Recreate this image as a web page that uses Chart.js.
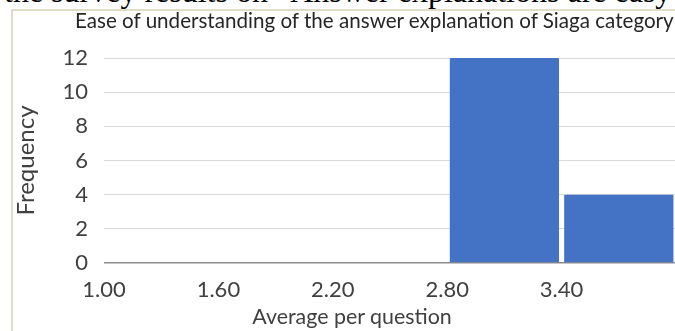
<!DOCTYPE html>
<html>
<head>
<meta charset="utf-8">
<script src="https://cdn.jsdelivr.net/npm/chart.js@4/dist/chart.umd.min.js"></script>
<style>
    html, body {
        margin: 0;
        padding: 0;
        width: 675px;
        height: 331px;
        overflow: hidden;
        background: #ffffff;
        position: relative;
    }
    #pageText {
        position: absolute;
        left: 4px;
        top: -25px;
        font-family: "Liberation Serif", serif;
        font-size: 32px;
        line-height: 32px;
        white-space: nowrap;
        color: #000000;
    }
    #frame {
        position: absolute;
        left: 11px;
        top: 9px;
        width: 720px;
        height: 340px;
        border-left: 2px solid #e0dcc8;
        border-top: 2px solid #e0dcc8;
    }
    #chartBox {
        position: absolute;
        left: 0;
        top: 0;
    }
    .label {
        position: absolute;
        font-family: Lato, sans-serif;
        white-space: nowrap;
        color: #262626;
    }
    #chartTitle {
        left: 75px;
        top: 8px;
        font-size: 20.6px;
        line-height: 1.2;
    }
    #xTitle {
        left: 352px;
        top: 304px;
        font-size: 21.4px;
        line-height: 1.2;
        transform: translateX(-50%);
        color: #404040;
    }
</style>
</head>
<body>
<div id="pageText">the survey results on “Answer explanations are easy</div>
<div id="frame"></div>
<div id="chartBox">
    <canvas id="chart" width="700" height="331"></canvas>
</div>
<div class="label" id="chartTitle">Ease of understanding of the answer explanation of Siaga category</div>
<div class="label" id="xTitle">Average per question</div>

<script>
// histogram bins (average score per question) and how many questions fall in each
const binStarts = [1.00, 1.60, 2.20, 2.80, 3.40];
const binEnds = [1.60, 2.20, 2.80, 3.40, 4.00];
const frequency = [0, 0, 0, 12, 4];
const yTicks = [0, 2, 4, 6, 8, 10, 12];

const tickFont = { family: "Lato", size: 22 };

const bars = binStarts.map((start, i) => ({
    x: (start + binEnds[i]) / 2,
    y: frequency[i]
}));

new Chart(document.getElementById("chart").getContext("2d"), {
    type: "bar",
    data: {
        datasets: [
            {
                label: "Frequency",
                data: bars,
                backgroundColor: "#4472C4",
                borderWidth: 0,
                borderRadius: 1,
                categoryPercentage: 1,
                barPercentage: 0.955
            }
        ]
    },
    options: {
        responsive: false,
        animation: false,
        layout: {
            padding: { top: 58, right: 24, bottom: 0, left: 0 }
        },
        scales: {
            x: {
                type: "linear",
                min: binStarts[0],
                max: binEnds[binEnds.length - 1],
                offset: false,
                grid: { display: false, offset: false },
                border: { display: false },
                afterBuildTicks: function (axis) {
                    axis.ticks = binStarts.map(v => ({ value: v }));
                },
                afterFit: function (axis) {
                    axis.height = 68;
                },
                ticks: {
                    color: "#404040",
                    font: tickFont,
                    padding: 6,
                    maxRotation: 0,
                    autoSkip: false,
                    callback: function (value) {
                        return Number(value).toFixed(2);
                    }
                }
            },
            y: {
                min: 0,
                max: 12,
                afterBuildTicks: function (axis) {
                    axis.ticks = yTicks.map(v => ({ value: v }));
                },
                afterFit: function (axis) {
                    axis.width = 104;
                },
                grid: {
                    drawTicks: false,
                    color: function (ctx) {
                        return ctx.tick && ctx.tick.value === 0 ? "#8c8c8c" : "#d9d9d9";
                    },
                    lineWidth: function (ctx) {
                        return ctx.tick && ctx.tick.value === 0 ? 1.5 : 1;
                    }
                },
                border: { display: false },
                ticks: {
                    color: "#404040",
                    font: tickFont,
                    padding: 16
                },
                title: {
                    display: true,
                    text: "Frequency",
                    color: "#404040",
                    font: { family: "Lato", size: 24 },
                    padding: { top: 12, bottom: 0 }
                }
            }
        },
        plugins: {
            legend: { display: false },
            tooltip: { enabled: false }
        }
    }
});
</script>
</body>
</html>
